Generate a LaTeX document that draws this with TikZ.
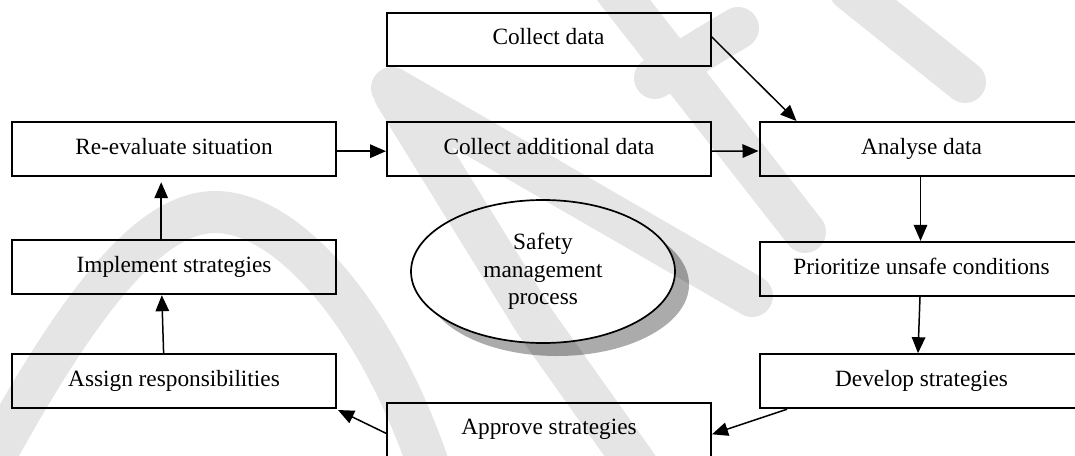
\documentclass[tikz,border=0pt]{standalone}
\usepackage{fontspec}
\setmainfont{Liberation Serif}
\usetikzlibrary{arrows.meta,shapes.geometric,shadows,calc}
\begin{document}
\begin{tikzpicture}[x=1pt,y=-1pt,
  procbox/.style={draw=black, line width=2pt, minimum width=324pt, minimum height=54pt,
    inner sep=0pt, text height=16.3pt, text depth=5.8pt,
    font=\fontsize{23.3pt}{27.5pt}\selectfont},
  hubshape/.style={ellipse, draw=black, line width=1.7pt, fill=white, minimum width=264pt,
    minimum height=143pt, inner sep=0pt, align=center,
    font=\fontsize{23.3pt}{27.5pt}\selectfont},
  flowarrow/.style={line width=1.5pt, -{Triangle[length=16pt,width=13.5pt]}},
  wmstroke/.style={line width=42pt, line cap=round, line join=round, draw=black, draw opacity=0.1}
]
\useasboundingbox (0,0) rectangle (1075,455);
\clip (0,0) rectangle (1075,455);
\fill[white] (0,0) rectangle (1075,455);

% central process ellipse with its drop shadow
\node[hubshape, drop shadow={shadow xshift=14pt, shadow yshift=-13pt, fill=black!33, opacity=1}]
  (hub) at (543,271.5) {Safety\\management\\process};

% faint watermark strokes
\draw[wmstroke]
  (392,88) -- (752,296)
  (395,95) -- (535,322) -- (640,470)
  (600,-30) -- (805,232)
  (655,78) -- (738,28)
  (850,-10) -- (965,82)
  (-10,465) .. controls (80,300) and (150,212) .. (215,212)
            .. controls (290,212) and (380,320) .. (430,470);

% process steps
\node[procbox, minimum height=53pt] (collect) at (548.5,39.2) {Collect data};
\node[procbox] (reeval)    at (174,149.2)   {Re-evaluate situation};
\node[procbox] (addl)      at (549,149.2)   {Collect additional data};
\node[procbox] (analyse)   at (921.5,149)   {Analyse data};
\node[procbox] (prior)     at (921.5,268.9) {Prioritize unsafe conditions};
\node[procbox] (develop)   at (921.5,381.2) {Develop strategies};
\node[procbox] (approve)   at (549,429.7)   {Approve strategies};
\node[procbox] (assign)    at (174,381)     {Assign responsibilities};
\node[procbox] (implement) at (174,267.2)   {Implement strategies};

% flow between the steps
\draw[flowarrow] ($(collect.east)+(0,-2.5)$) -- ($(analyse.north west)+(38,0)$);
\draw[flowarrow] ($(reeval.east)+(0,2)$) -- ($(addl.west)+(0,2)$);
\draw[flowarrow] ($(addl.east)+(-2,2)$) -- ($(analyse.west)+(0,2)$);
\draw[flowarrow] ($(analyse.south)+(-1,-2)$) -- ($(prior.north)+(-1,0)$);
\draw[flowarrow] ($(prior.south)+(-1.5,0)$) -- ($(develop.north)+(-3.5,0)$);
\draw[flowarrow] ($(develop.south west)+(28.5,0)$) -- ($(approve.east)+(0,4.6)$);
\draw[flowarrow] ($(approve.west)+(0,3.6)$) -- ($(assign.south east)+(1,1)$);
\draw[flowarrow] ($(assign.north)+(-10.4,0)$) -- ($(implement.south)+(-12.2,0)$);
\draw[flowarrow] ($(implement.north)+(-12.8,0)$) -- ($(reeval.south)+(-12.8,5)$);
\end{tikzpicture}
\end{document}
